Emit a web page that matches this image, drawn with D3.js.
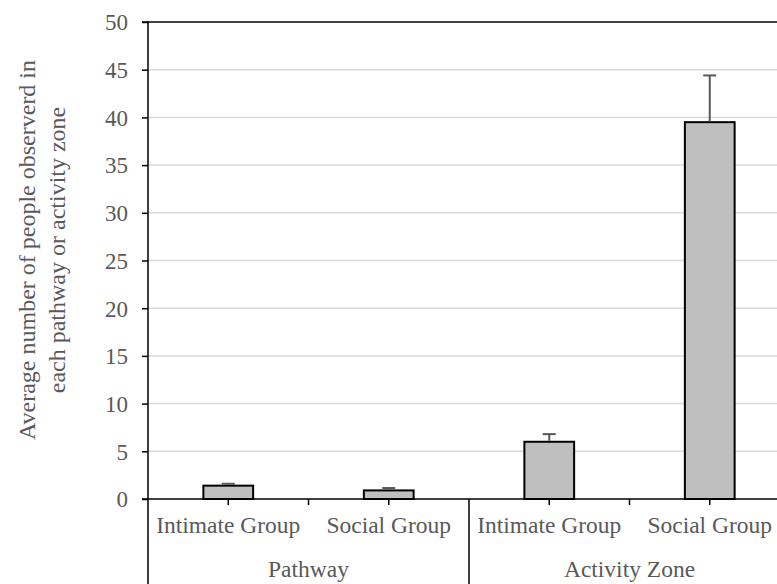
<!DOCTYPE html>
<html>
<head>
<meta charset="utf-8">
<script src="https://cdn.jsdelivr.net/npm/d3@7"></script>
<style>
  html, body { margin: 0; padding: 0; background: #fff; }
  svg { display: block; }
</style>
</head>
<body>
<svg id="chart" width="777" height="584"></svg>
<script>
// Observation data: two settings, each split into two group types
const groups = ["Pathway", "Activity Zone"];
const subgroups = ["Intimate Group", "Social Group"];
const meanValues = [1.4, 0.9, 6.0, 39.5];
const errorValues = [0.2, 0.25, 0.8, 4.9];
const yTicks = [0, 5, 10, 15, 20, 25, 30, 35, 40, 45, 50];
const yTitleLines = ["Average number of people observerd in", "each pathway or activity zone"];

(function draw() {
  const FONT = "Liberation Serif";
  const INK = "#595959";
  const svg = d3.select("#chart");
  const mLeft = 148, mRight = 790, mTop = 22, mBottom = 499;

  const rows = [];
  groups.forEach((g, gi) => subgroups.forEach((s, si) => {
    const i = gi * subgroups.length + si;
    rows.push({ key: g + "|" + s, group: g, sub: s, value: meanValues[i], err: errorValues[i] });
  }));

  const x = d3.scaleBand().domain(rows.map(d => d.key)).range([mLeft, mRight])
    .paddingInner(0.69).paddingOuter(0.345);
  const gap = x.step() * x.paddingInner() / 2;
  const cx = d => x(d.key) + x.bandwidth() / 2;
  const y = d3.scaleLinear().domain([0, 50]).range([mBottom, mTop]);

  // Horizontal gridlines
  svg.append("g").selectAll("line").data(yTicks.filter(t => t > 0 && t < 50)).join("line")
    .attr("x1", mLeft).attr("x2", 777)
    .attr("y1", d => y(d)).attr("y2", d => y(d))
    .attr("stroke", "#d9d9d9").attr("stroke-width", 1.5);

  // Top border of the plot
  svg.append("line").attr("x1", 142).attr("x2", 777).attr("y1", y(50)).attr("y2", y(50))
    .attr("stroke", "#000").attr("stroke-width", 1.5);

  // Bars
  svg.append("g").selectAll("rect").data(rows).join("rect")
    .attr("x", d => x(d.key)).attr("width", x.bandwidth())
    .attr("y", d => y(d.value)).attr("height", d => y(0) - y(d.value))
    .attr("fill", "#bfbfbf").attr("stroke", "#000").attr("stroke-width", 2);

  // Error bars (upper only)
  const eb = svg.append("g").attr("stroke", INK).attr("stroke-width", 2);
  eb.selectAll("line.v").data(rows).join("line").attr("class", "v")
    .attr("x1", cx).attr("x2", cx)
    .attr("y1", d => y(d.value) - 1).attr("y2", d => y(d.value + d.err));
  eb.selectAll("line.c").data(rows).join("line").attr("class", "c")
    .attr("x1", d => cx(d) - 6.5).attr("x2", d => cx(d) + 6.5)
    .attr("y1", d => y(d.value + d.err)).attr("y2", d => y(d.value + d.err));

  // Y axis
  const yAxis = svg.append("g").attr("transform", `translate(${mLeft},0)`)
    .call(d3.axisLeft(y).tickValues(yTicks).tickSize(6).tickPadding(14));
  yAxis.attr("font-family", FONT).attr("font-size", 23);
  yAxis.select(".domain").remove();
  yAxis.selectAll(".tick line").attr("stroke", "#000").attr("stroke-width", 1.5);
  yAxis.selectAll(".tick text").attr("fill", INK).attr("dy", "0.34em");
  svg.append("line").attr("x1", mLeft).attr("x2", mLeft).attr("y1", mTop - 0.75).attr("y2", 584)
    .attr("stroke", "#000").attr("stroke-width", 1.5);

  // X axis line
  svg.append("line").attr("x1", 142).attr("x2", 777).attr("y1", mBottom).attr("y2", mBottom)
    .attr("stroke", "#000").attr("stroke-width", 1.5);

  // Small ticks at each category centre and between categories within a group
  const tickXs = rows.map(cx);
  groups.forEach(g => {
    for (let k = 1; k < subgroups.length; k++) tickXs.push(x(g + "|" + subgroups[k]) - gap);
  });
  svg.append("g").selectAll("line").data(tickXs).join("line")
    .attr("x1", d => d).attr("x2", d => d).attr("y1", mBottom).attr("y2", mBottom + 6)
    .attr("stroke", "#000").attr("stroke-width", 1.5);

  // Separators between groups
  svg.append("g").selectAll("line").data(groups.slice(1)).join("line")
    .attr("x1", g => x(g + "|" + subgroups[0]) - gap)
    .attr("x2", g => x(g + "|" + subgroups[0]) - gap)
    .attr("y1", mBottom).attr("y2", 584)
    .attr("stroke", "#000").attr("stroke-width", 1.5);

  // Category labels
  svg.append("g").selectAll("text").data(rows).join("text")
    .attr("x", cx).attr("y", 533)
    .attr("text-anchor", "middle").attr("font-family", FONT).attr("font-size", 23.5)
    .attr("fill", INK).text(d => d.sub);

  // Group labels
  svg.append("g").selectAll("text").data(groups).join("text")
    .attr("x", g => {
      const a = x(g + "|" + subgroups[0]) + x.bandwidth() / 2;
      const b = x(g + "|" + subgroups[subgroups.length - 1]) + x.bandwidth() / 2;
      return (a + b) / 2;
    })
    .attr("y", 577).attr("text-anchor", "middle").attr("font-family", FONT).attr("font-size", 23.5)
    .attr("fill", INK).text(g => g);

  // Y axis title
  const yt = svg.append("text").attr("transform", "translate(0,250) rotate(-90)")
    .attr("text-anchor", "middle").attr("font-family", FONT).attr("font-size", 24)
    .attr("fill", INK);
  yTitleLines.forEach((t, i) => yt.append("tspan").attr("x", 0).attr("y", 35 + i * 30).text(t));
})();
</script>
</body>
</html>
